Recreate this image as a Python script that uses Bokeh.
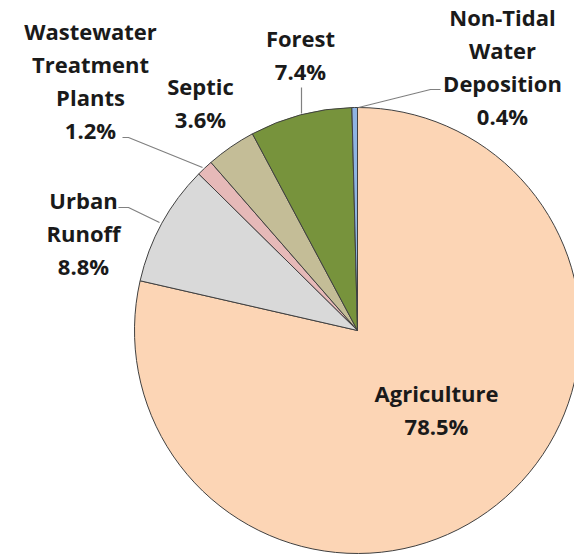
import math

from bokeh.core.properties import value
from bokeh.embed import file_html
from bokeh.models import ColumnDataSource, Range1d
from bokeh.plotting import figure
from bokeh.resources import INLINE

# Nitrogen load by source (percent of total)
sources = ["Agriculture", "Urban Runoff", "Wastewater Treatment Plants",
           "Septic", "Forest", "Non-Tidal Water Deposition"]
shares = [78.5, 8.8, 1.2, 3.6, 7.4, 0.4]
colors = ["#FCD5B5", "#D9D9D9", "#E6B9B8", "#C4BD97", "#77933C", "#8EB4E3"]
label_lines = [["Agriculture"], ["Urban", "Runoff"],
               ["Wastewater", "Treatment", "Plants"], ["Septic"], ["Forest"],
               ["Non-Tidal", "Water", "Deposition"]]

W, H = 574, 557
CX, CY, R = 357, 330, 223          # pie centre / radius (pixel coords, y down)
LINE_GAP = 33

# label anchors: x centre and first-line baseline (pixel coords, y down)
label_x = [436, 83, 90, 200, 300, 502]
label_y0 = [392, 199, 30, 85, 37, 16]

# leader lines (pixel coords, y down)
leaders = [
    [(118, 207), (128, 207), (159, 222)],
    [(122, 137), (128, 137), (202, 167)],
    [(301, 87), (301, 113)],
    [(440, 89), (430, 89), (358, 107)],
]


def fy(y):
    return H - y


total = sum(shares)
starts, ends = [], []
acc = 0.0
for s in shares:
    starts.append(math.pi / 2 - 2 * math.pi * acc / total)
    acc += s
    ends.append(math.pi / 2 - 2 * math.pi * acc / total)

p = figure(width=W, height=H, output_backend="svg", toolbar_location=None,
           x_range=Range1d(0, W), y_range=Range1d(0, H),
           x_axis_location=None, y_axis_location=None, min_border=0)
p.grid.visible = False
p.outline_line_color = None
p.background_fill_color = "white"
p.border_fill_color = "white"

wedges = ColumnDataSource(dict(source=sources, start=starts, end=ends, color=colors))
p.wedge(x=CX, y=fy(CY), radius=R, start_angle="start", end_angle="end",
        direction="clock", fill_color="color", line_color="#404040",
        line_width=1, source=wedges)

p.multi_line(xs=[[pt[0] for pt in l] for l in leaders],
             ys=[[fy(pt[1]) for pt in l] for l in leaders],
             line_color="#808080", line_width=1.2)

tx, ty, tt = [], [], []
for lines, share, x, y0 in zip(label_lines, shares, label_x, label_y0):
    for i, t in enumerate(lines + [f"{share}%"]):
        tx.append(x)
        ty.append(fy(y0 + i * LINE_GAP))
        tt.append(t)

p.text(x=tx, y=ty, text=tt, text_font=value("Open Sans"),
       text_font_style="bold", text_font_size="22px", text_color="#1a1a1a",
       text_align="center", text_baseline="alphabetic")

open("out.html", "w").write(file_html(p, INLINE))
